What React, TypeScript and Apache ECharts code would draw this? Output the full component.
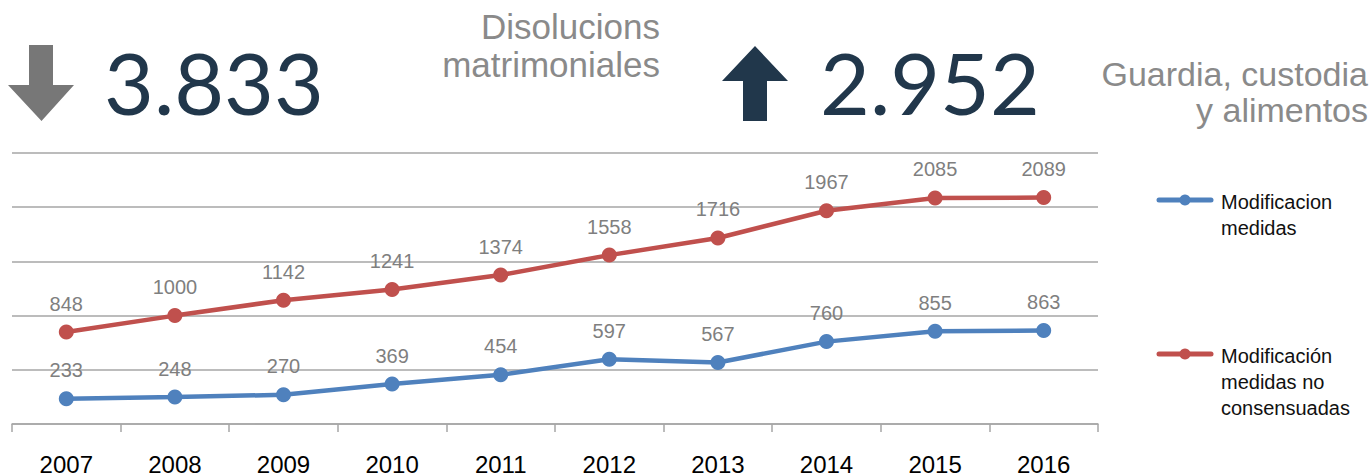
import React, { useEffect, useRef } from "react";
import * as echarts from "echarts";

const years = ["2007", "2008", "2009", "2010", "2011", "2012", "2013", "2014", "2015", "2016"];
const modificacionMedidas = [233, 248, 270, 369, 454, 597, 567, 760, 855, 863];
const modificacionNoConsensuadas = [848, 1000, 1142, 1241, 1374, 1558, 1716, 1967, 2085, 2089];
const seriesNames = ["Modificacion\nmedidas", "Modificación\nmedidas no\nconsensuadas"];
const headlineLeft = "3.833";
const headlineLeftCaption = ["Disolucions", "matrimoniales"];
const headlineRight = "2.952";
const headlineRightCaption = ["Guardia, custodia", "y alimentos"];

const BLUE = "#4f81bd";
const RED = "#c0504d";
const NAVY = "#21374b";
const GRAY_TEXT = "#7f7f7f";
const CAPTION = "#8a8a8a";
const GRID = "#a6a6a6";

export default function App() {
  const ref = useRef<HTMLDivElement>(null);
  useEffect(() => {
    document.body.style.margin = "0";
    const chart = echarts.init(ref.current!, null, { renderer: "svg" });
    const legendItem = (y: number, color: string, lines: string[]) => [
      {
        type: "line",
        shape: { x1: 1159, y1: y, x2: 1211, y2: y },
        style: { stroke: color, lineWidth: 5, lineCap: "round" },
      },
      { type: "circle", shape: { cx: 1185, cy: y, r: 5.5 }, style: { fill: color } },
      ...lines.map((t, i) => ({
        type: "text",
        x: 1221,
        y: y + 2 + i * 26,
        style: {
          text: t,
          font: '20px "Liberation Sans", Arial, sans-serif',
          fill: "#111",
          textAlign: "left",
          textVerticalAlign: "middle",
        },
      })),
    ];
    const option: any = {
      animation: false,
      grid: { left: 12, width: 1086, top: 153, height: 274 },
      xAxis: {
        type: "category",
        data: years,
        boundaryGap: true,
        axisLine: { show: true, lineStyle: { color: GRID, width: 1.5 } },
        axisTick: { show: true, length: 8, lineStyle: { color: GRID, width: 1.5 } },
        axisLabel: {
          color: "#000",
          fontSize: 24,
          fontFamily: '"Liberation Sans", Arial, sans-serif',
          margin: 28,
        },
      },
      yAxis: {
        type: "value",
        min: 0,
        max: 2500,
        interval: 500,
        axisLabel: { show: false },
        axisLine: { show: false },
        axisTick: { show: false },
        splitLine: { show: true, lineStyle: { color: GRID, width: 1.5 } },
      },
      series: [
        {
          name: seriesNames[0],
          type: "line",
          data: modificacionMedidas,
          symbol: "circle",
          symbolSize: 15,
          lineStyle: { color: BLUE, width: 4.5 },
          itemStyle: { color: BLUE },
          label: {
            show: true,
            position: "top",
            distance: 11,
            color: GRAY_TEXT,
            fontSize: 20,
            fontFamily: '"Liberation Sans", Arial, sans-serif',
          },
        },
        {
          name: seriesNames[1],
          type: "line",
          data: modificacionNoConsensuadas,
          symbol: "circle",
          symbolSize: 15,
          lineStyle: { color: RED, width: 4.5 },
          itemStyle: { color: RED },
          label: {
            show: true,
            position: "top",
            distance: 11,
            color: GRAY_TEXT,
            fontSize: 20,
            fontFamily: '"Liberation Sans", Arial, sans-serif',
          },
        },
      ],
      graphic: [
        {
          type: "polygon",
          shape: {
            points: [
              [29, 45], [53, 45], [53, 85], [74, 85], [41.5, 121], [8, 85], [29, 85],
            ],
          },
          style: { fill: "#777777" },
        },
        {
          type: "polygon",
          shape: {
            points: [
              [722, 81], [755, 46], [788, 81], [767, 81], [767, 121], [743, 121], [743, 81],
            ],
          },
          style: { fill: NAVY },
        },
        {
          type: "text",
          x: 104,
          y: 81,
          style: {
            text: headlineLeft,
            font: '86px Lato, "DejaVu Sans", sans-serif',
            fill: NAVY,
            textAlign: "left",
            textVerticalAlign: "middle",
          },
        },
        {
          type: "text",
          x: 820,
          y: 81,
          style: {
            text: headlineRight,
            font: '86px Lato, "DejaVu Sans", sans-serif',
            fill: NAVY,
            textAlign: "left",
            textVerticalAlign: "middle",
          },
        },
        ...headlineLeftCaption.map((t, i) => ({
          type: "text",
          x: 660,
          y: 26 + i * 38,
          style: {
            text: t,
            font: '35px "Liberation Sans", Arial, sans-serif',
            fill: CAPTION,
            textAlign: "right",
            textVerticalAlign: "middle",
          },
        })),
        ...headlineRightCaption.map((t, i) => ({
          type: "text",
          x: 1368,
          y: 74 + i * 36,
          style: {
            text: t,
            font: '34px "Liberation Sans", Arial, sans-serif',
            fill: CAPTION,
            textAlign: "right",
            textVerticalAlign: "middle",
          },
        })),
        ...legendItem(200, BLUE, seriesNames[0].split("\n")),
        ...legendItem(354, RED, seriesNames[1].split("\n")),
      ],
    };
    chart.setOption(option);
    return () => chart.dispose();
  }, []);
  return (
    <div
      ref={ref}
      style={{ position: "absolute", left: 0, top: 0, width: 1371, height: 476 }}
    />
  );
}
